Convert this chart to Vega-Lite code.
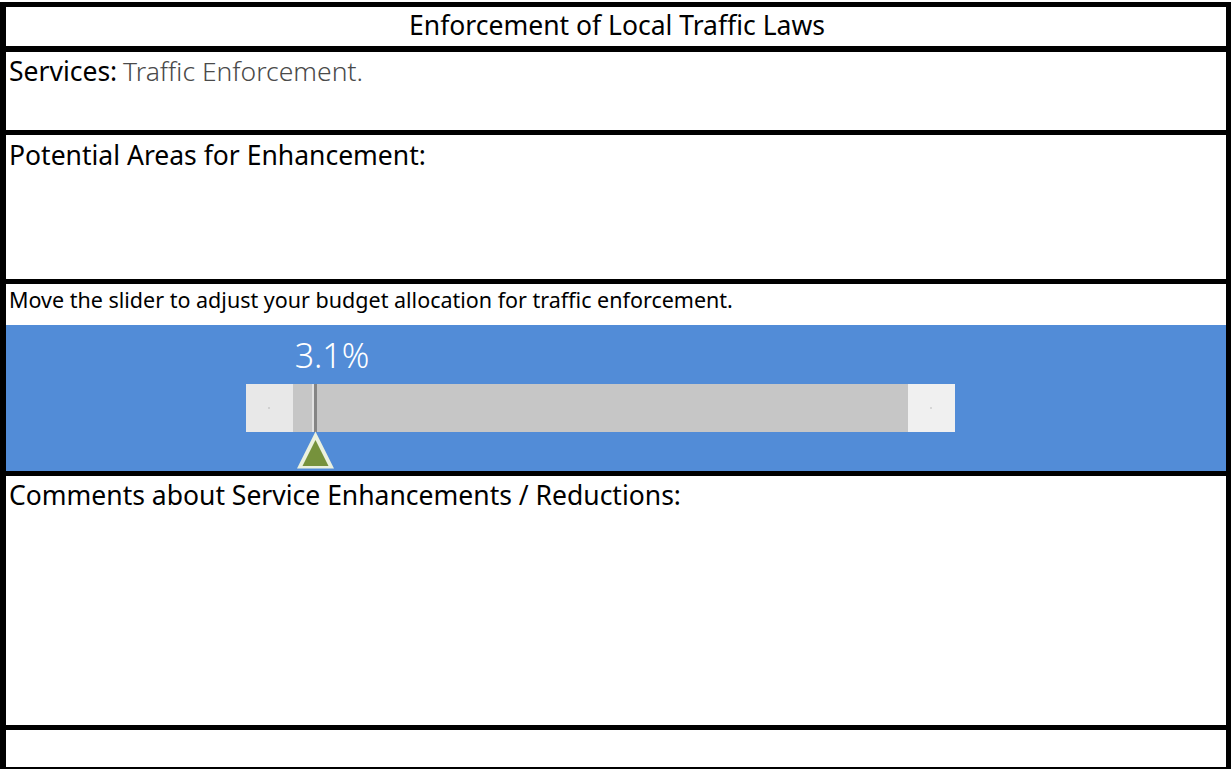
{
  "$schema": "https://vega.github.io/schema/vega-lite/v6.json",
  "width": 1231,
  "height": 769,
  "padding": 0,
  "autosize": {"type": "fit", "contains": "padding"},
  "background": "white",
  "config": {"view": {"stroke": null}, "font": "Noto Sans"},
  "datasets": {
    "panels": [
      {"part": "frame", "x": 0, "x2": 1231, "y": 2, "y2": 769},
      {"part": "title", "x": 6, "x2": 1226, "y": 7, "y2": 46},
      {"part": "services", "x": 6, "x2": 1226, "y": 52, "y2": 130},
      {"part": "potential", "x": 6, "x2": 1226, "y": 135, "y2": 279},
      {"part": "instruction", "x": 6, "x2": 1226, "y": 284, "y2": 325},
      {"part": "slider", "x": 6, "x2": 1226, "y": 325, "y2": 471},
      {"part": "comments", "x": 6, "x2": 1226, "y": 476, "y2": 725},
      {"part": "footer", "x": 6, "x2": 1226, "y": 730, "y2": 767},
      {"part": "leftcap", "x": 246, "x2": 293, "y": 384, "y2": 432},
      {"part": "track", "x": 293, "x2": 908, "y": 384, "y2": 432},
      {"part": "rightcap", "x": 908, "x2": 955, "y": 384, "y2": 432},
      {"part": "thumbhi", "x": 312, "x2": 314, "y": 384, "y2": 432},
      {"part": "thumb", "x": 314, "x2": 317, "y": 384, "y2": 432},
      {"part": "dot", "x": 268.5, "x2": 269.5, "y": 407.5, "y2": 408.5},
      {"part": "dot", "x": 930.5, "x2": 931.5, "y": 407.5, "y2": 408.5}
    ]
  },
  "layer": [
    {
      "data": {"name": "panels"},
      "mark": {"type": "rect"},
      "encoding": {
        "x": {"field": "x", "type": "quantitative", "scale": {"domain": [0, 1231], "nice": false, "zero": false}, "axis": null},
        "x2": {"field": "x2"},
        "y": {"field": "y", "type": "quantitative", "scale": {"domain": [0, 769], "nice": false, "zero": false, "reverse": true}, "axis": null},
        "y2": {"field": "y2"},
        "color": {
          "field": "part", "type": "nominal", "legend": null,
          "scale": {
            "domain": ["frame", "title", "services", "potential", "instruction", "slider", "comments", "footer", "leftcap", "track", "rightcap", "thumbhi", "thumb", "dot"],
            "range": ["#000000", "#ffffff", "#ffffff", "#ffffff", "#ffffff", "#528CD7", "#ffffff", "#ffffff", "#E8E8E8", "#C6C6C6", "#F0F0F0", "#E2E2E2", "#858585", "#888888"]
          }
        }
      }
    },
    {
      "data": {"values": [{"label": "handle", "x": 315.5, "y": 450}]},
      "mark": {"type": "point", "filled": true, "shape": "M0,-1L1,1L-1,1Z", "size": 1369, "color": "#EBF1DE", "opacity": 1},
      "encoding": {
        "x": {"field": "x", "type": "quantitative"},
        "y": {"field": "y", "type": "quantitative"}
      }
    },
    {
      "data": {"values": [{"label": "handle", "x": 315.5, "y": 453}]},
      "mark": {"type": "point", "filled": true, "shape": "M0,-1L1,1L-1,1Z", "size": 676, "color": "#76923C", "opacity": 1},
      "encoding": {
        "x": {"field": "x", "type": "quantitative"},
        "y": {"field": "y", "type": "quantitative"}
      }
    },
    {
      "data": {"values": [
        {"text": "Enforcement of Local Traffic Laws", "x": 617, "y": 27}
      ]},
      "mark": {"type": "text", "align": "center", "baseline": "middle", "fontSize": 26.5, "color": "#000000"},
      "encoding": {
        "x": {"field": "x", "type": "quantitative"},
        "y": {"field": "y", "type": "quantitative"},
        "text": {"field": "text"}
      }
    },
    {
      "data": {"values": [
        {"text": "Services:", "x": 9, "y": 73},
        {"text": "Potential Areas for Enhancement:", "x": 9, "y": 157},
        {"text": "Comments about Service Enhancements / Reductions:", "x": 9, "y": 497}
      ]},
      "mark": {"type": "text", "align": "left", "baseline": "middle", "fontSize": 26.5, "color": "#000000"},
      "encoding": {
        "x": {"field": "x", "type": "quantitative"},
        "y": {"field": "y", "type": "quantitative"},
        "text": {"field": "text"}
      }
    },
    {
      "data": {"values": [{"text": "Traffic Enforcement.", "x": 123, "y": 73}]},
      "mark": {"type": "text", "align": "left", "baseline": "middle", "fontSize": 26.5, "fontWeight": 300, "color": "#4A4A4A"},
      "encoding": {
        "x": {"field": "x", "type": "quantitative"},
        "y": {"field": "y", "type": "quantitative"},
        "text": {"field": "text"}
      }
    },
    {
      "data": {"values": [{"text": "Move the slider to adjust your budget allocation for traffic enforcement.", "x": 9, "y": 302}]},
      "mark": {"type": "text", "align": "left", "baseline": "middle", "fontSize": 21.5, "color": "#000000"},
      "encoding": {
        "x": {"field": "x", "type": "quantitative"},
        "y": {"field": "y", "type": "quantitative"},
        "text": {"field": "text"}
      }
    },
    {
      "data": {"values": [{"value": 0.031, "x": 332, "y": 358}]},
      "mark": {"type": "text", "align": "center", "baseline": "middle", "fontSize": 34, "fontWeight": 300, "color": "#ffffff"},
      "encoding": {
        "x": {"field": "x", "type": "quantitative"},
        "y": {"field": "y", "type": "quantitative"},
        "text": {"field": "value", "type": "quantitative", "format": ".1%"}
      }
    }
  ]
}
